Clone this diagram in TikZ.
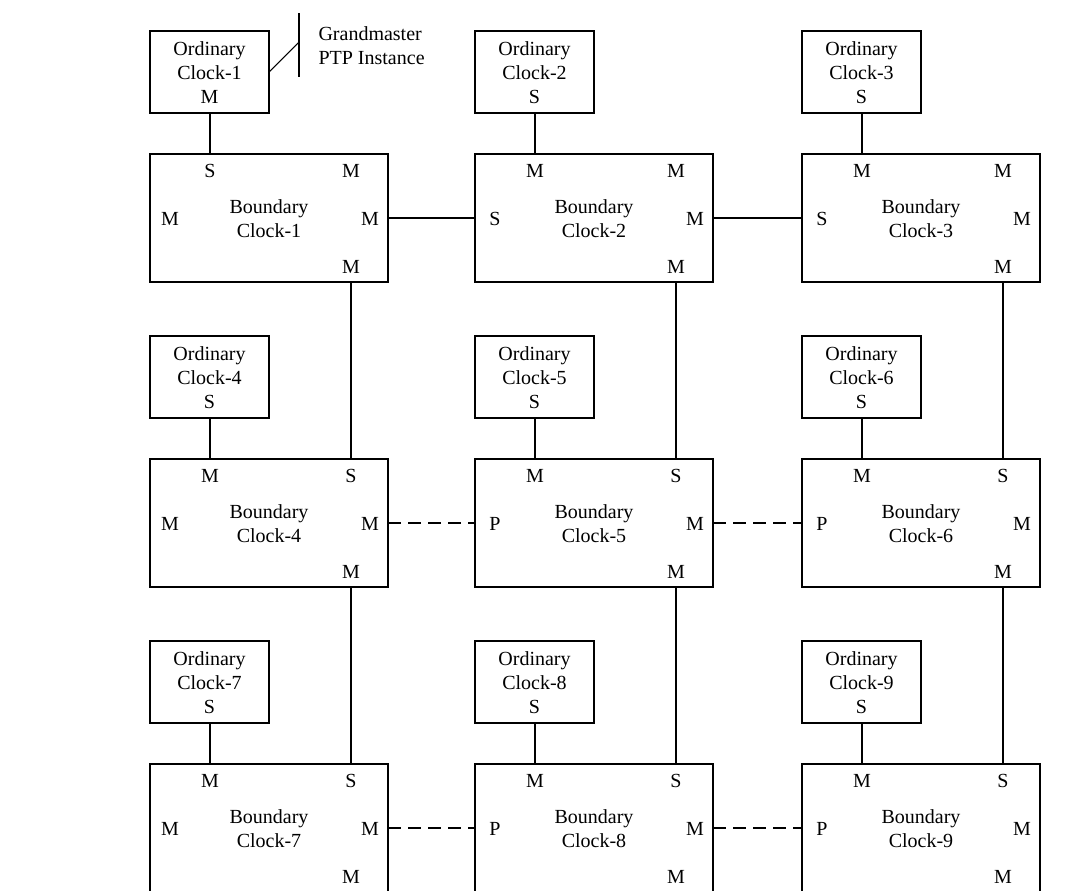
\documentclass[tikz,border=0pt]{standalone}
\usepackage{fontspec}
\setmainfont{Liberation Serif}
\begin{document}
\begin{tikzpicture}[x=0.75pt,y=-0.75pt,
  line width=0.8pt,
  oc/.style={draw, minimum width=89.25pt, minimum height=61.5pt, inner sep=0pt,
    outer sep=0pt},
  bc/.style={draw, minimum width=178.5pt, minimum height=96pt, inner sep=0pt,
    outer sep=0pt},
  clocktext/.style={align=center, inner sep=0pt, font=\fontsize{15}{18}\selectfont},
  port/.style={inner sep=0pt, font=\fontsize{15}{18}\selectfont},
  ptplink/.style={dash pattern=on 9.5pt off 5.5pt}]
\useasboundingbox (0,0) rectangle (1071,890);
\clip (0,0) rectangle (1071,890);

% ordinary clock: name, left, top, number, port state
\newcommand{\oclk}[5]{%
  \node[oc] (#1) at (#2+59.5,#3+41) {};
  \node[clocktext] (#1-name) at (#2+59.5,#3+42) {Ordinary\\Clock-#4\\#5};
  \coordinate (#1-s1) at (#2+60,#3+82);}
% boundary clock: name, left, top, number, top-left, top-right, left, right, bottom-right
\newcommand{\bclk}[9]{%
  \node[bc] (#1) at (#2+119,#3+64) {};
  \node[clocktext] (#1-name) at (#2+119,#3+65) {Boundary\\Clock-#4};
  \node[port] (#1-ptl) at (#2+60,#3+17) {#5};
  \node[port] (#1-ptr) at (#2+201,#3+17) {#6};
  \node[port] (#1-pml) at (#2+20,#3+65) {#7};
  \node[port] (#1-pmr) at (#2+220,#3+65) {#8};
  \node[port] (#1-pbr) at (#2+201,#3+113) {#9};
  \coordinate (#1-n1) at (#2+60,#3);
  \coordinate (#1-n2) at (#2+201,#3);
  \coordinate (#1-s2) at (#2+201,#3+128);}

% ordinary clocks
\oclk{o1}{150}{31}{1}{M}
\oclk{o2}{475}{31}{2}{S}
\oclk{o3}{802}{31}{3}{S}
\oclk{o4}{150}{336}{4}{S}
\oclk{o5}{475}{336}{5}{S}
\oclk{o6}{802}{336}{6}{S}
\oclk{o7}{150}{641}{7}{S}
\oclk{o8}{475}{641}{8}{S}
\oclk{o9}{802}{641}{9}{S}

% boundary clocks
\bclk{b1}{150}{154}{1}{S}{M}{M}{M}{M}
\bclk{b2}{475}{154}{2}{M}{M}{S}{M}{M}
\bclk{b3}{802}{154}{3}{M}{M}{S}{M}{M}
\bclk{b4}{150}{459}{4}{M}{S}{M}{M}{M}
\bclk{b5}{475}{459}{5}{M}{S}{P}{M}{M}
\bclk{b6}{802}{459}{6}{M}{S}{P}{M}{M}
\bclk{b7}{150}{764}{7}{M}{S}{M}{M}{M}
\bclk{b8}{475}{764}{8}{M}{S}{P}{M}{M}
\bclk{b9}{802}{764}{9}{M}{S}{P}{M}{M}

% grandmaster marker
\coordinate (gmtop) at (299,13);
\coordinate (gmbot) at (299,77);
\coordinate (gmjoin) at (299,42);
\draw (gmtop) -- (gmbot);
\draw (o1.east) -- (gmjoin);
\node[port, anchor=west, align=left] (gmtext) at (318,46) {Grandmaster\\PTP Instance};

% ordinary clock to boundary clock links
\foreach \i in {1,...,9} {
  \draw (o\i-s1) -- (b\i-n1);
}

% vertical boundary links
\draw (b1-s2) -- (b4-n2);
\draw (b2-s2) -- (b5-n2);
\draw (b3-s2) -- (b6-n2);
\draw (b4-s2) -- (b7-n2);
\draw (b5-s2) -- (b8-n2);
\draw (b6-s2) -- (b9-n2);

% horizontal links
\draw (b1.east) -- (b2.west);
\draw (b2.east) -- (b3.west);
\draw[ptplink] (b4.east) -- (b5.west);
\draw[ptplink] (b5.east) -- (b6.west);
\draw[ptplink] (b7.east) -- (b8.west);
\draw[ptplink] (b8.east) -- (b9.west);
\end{tikzpicture}
\end{document}
